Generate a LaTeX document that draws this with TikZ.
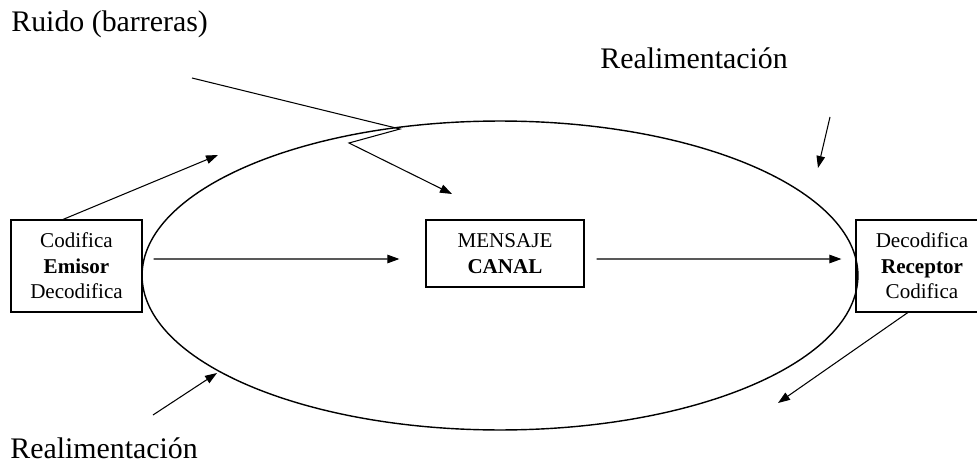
\documentclass[tikz,border=0pt]{standalone}
\usepackage{fontspec}
\setmainfont{Liberation Serif}
\usetikzlibrary{arrows.meta}

\begin{document}
\begin{tikzpicture}[x=0.02cm,y=-0.02cm,
   caja/.style={draw, line width=0.7pt, align=center, inner sep=0pt,
      font=\fontsize{12}{14.5}\selectfont},
   etiqueta/.style={anchor=base west, inner sep=0pt, font=\fontsize{17}{20}\selectfont},
   flecha/.style={-{Triangle[length=2.4mm,width=1.7mm]}, line width=0.6pt}]
\useasboundingbox (0,0) rectangle (977,466);
\draw[line width=0.8pt] (500,275.5) ellipse [x radius=7.16cm, y radius=3.09cm];

\node[caja, minimum width=2.62cm, minimum height=1.84cm] (emisor) at (76.5,266)
   {Codifica\\\textbf{Emisor}\\Decodifica};
\node[caja, minimum width=3.16cm, minimum height=1.34cm] (canal) at (505,253.5)
   {MENSAJE\\\textbf{CANAL}};
\node[caja, minimum width=2.64cm, minimum height=1.84cm] (receptor) at (922,266)
   {Decodifica\\\textbf{Receptor}\\Codifica};

\node[etiqueta] (ruido) at (11,32) {Ruido (barreras)};
\node[etiqueta] (realim1) at (600,69) {Realimentación};
\node[etiqueta] (realim2) at (10,458) {Realimentación};

\coordinate (r1) at (192,78);
\coordinate (r2) at (400,129);
\coordinate (r3) at (349,143);
\coordinate (r4) at (452,194);
\coordinate (e1) at (218,155);
\coordinate (f1) at (830,117);
\coordinate (f2) at (818,168);
\coordinate (g1) at (153,415);
\coordinate (g2) at (217,373);
\coordinate (h1) at (778,403);

\draw[flecha] (r1) -- (r2) -- (r3) -- (r4);
\draw[flecha] (emisor.106) -- (e1);
\draw[flecha] ([xshift=0.22cm,yshift=0.14cm]emisor.east) -- ([xshift=-0.52cm,yshift=-0.11cm]canal.west);
\draw[flecha] ([xshift=0.24cm,yshift=-0.11cm]canal.east) -- ([xshift=-0.28cm,yshift=0.14cm]receptor.west);
\draw[flecha] (f1) -- (f2);
\draw[flecha] (g1) -- (g2);
\draw[flecha] (receptor.253) -- (h1);
\end{tikzpicture}
\end{document}
